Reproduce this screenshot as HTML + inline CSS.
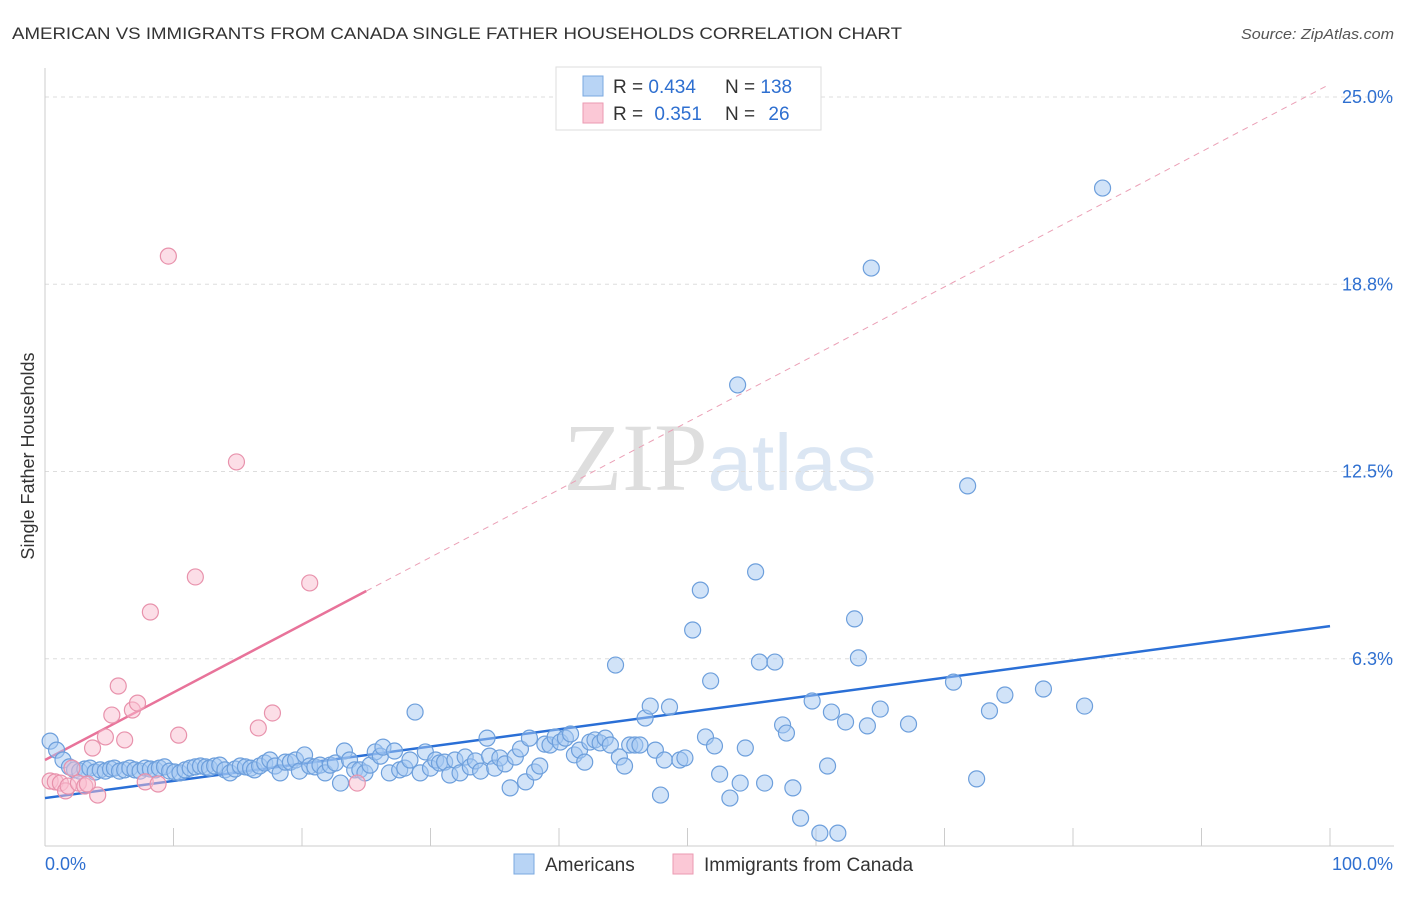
<!DOCTYPE html>
<html><head><meta charset="utf-8">
<style>
body{margin:0;background:#fff;font-family:"Liberation Sans",sans-serif;}
svg text{font-family:"Liberation Sans",sans-serif;}
</style></head>
<body>
<svg id="chart" width="1406" height="892" viewBox="0 0 1406 892" xmlns="http://www.w3.org/2000/svg">
<text x="12" y="39" font-size="17" fill="#333" textLength="890" lengthAdjust="spacingAndGlyphs">AMERICAN VS IMMIGRANTS FROM CANADA SINGLE FATHER HOUSEHOLDS CORRELATION CHART</text>
<text x="1241" y="39" font-size="15" fill="#555" font-style="italic" textLength="153" lengthAdjust="spacingAndGlyphs">Source: ZipAtlas.com</text>
<text x="720" y="490" font-size="96" text-anchor="middle" fill="#e6e6e6"><tspan font-family="Liberation Serif" fill="#dedede">ZIP</tspan><tspan fill="#dbe6f3" font-size="80">atlas</tspan></text>
<g id="grid"></g>
<g id="axes"></g>
<text transform="translate(34,456) rotate(-90)" font-size="18" fill="#333" text-anchor="middle">Single Father Households</text>
<g id="trends"></g>
<g id="points"></g>
<g>
<rect x="556" y="67" width="265" height="63" fill="#fff" stroke="#ddd"/>
<rect x="583" y="76" width="20" height="20" fill="#b8d4f5" stroke="#7aa8e0"/>
<rect x="583" y="103" width="20" height="20" fill="#fbc8d6" stroke="#eb9ab2"/>
<text x="613" y="93" font-size="19" fill="#333">R = <tspan fill="#2e6fd0">0.434</tspan></text>
<text x="725" y="93" font-size="19" fill="#333">N = <tspan fill="#2e6fd0">138</tspan></text>
<text x="613" y="120" font-size="19" fill="#333">R = <tspan fill="#2e6fd0" dx="6">0.351</tspan></text>
<text x="725" y="120" font-size="19" fill="#333">N = <tspan fill="#2e6fd0" dx="8">26</tspan></text>
</g>
<g>
<rect x="514" y="854" width="20" height="20" fill="#b8d4f5" stroke="#7aa8e0"/>
<text x="545" y="871" font-size="19" fill="#333">Americans</text>
<rect x="673" y="854" width="20" height="20" fill="#fbc8d6" stroke="#eb9ab2"/>
<text x="704" y="871" font-size="19" fill="#333">Immigrants from Canada</text>
</g>
</svg>
<script>
const blueX=[0.4,0.9,1.4,1.9,2.3,2.7,3.1,3.5,3.9,4.3,4.7,5.1,5.4,5.8,6.2,6.6,7.0,7.4,7.8,8.2,8.6,8.9,9.3,9.7,10.1,10.5,10.9,11.3,11.7,12.1,12.5,12.8,13.2,13.6,14.0,14.4,14.8,15.2,15.6,16.0,16.3,16.7,17.1,17.5,17.9,18.3,18.7,19.1,19.5,19.8,20.2,20.6,21.0,21.4,21.8,22.2,22.6,23.0,23.3,23.7,24.1,24.5,24.9,25.3,25.7,26.1,26.3,26.8,27.2,27.6,28.0,28.4,28.8,29.2,29.6,30.0,30.4,30.7,31.1,31.5,31.9,32.3,32.7,33.1,33.5,33.9,34.4,34.6,35.0,35.4,35.8,36.2,36.6,37.0,37.4,37.7,38.1,38.5,38.9,39.3,39.7,40.1,40.5,40.9,41.2,41.6,42.0,42.4,42.8,43.2,43.6,44.0,44.4,44.7,45.1,45.5,45.9,46.3,46.7,47.1,47.5,47.9,48.2,48.6,49.4,49.8,50.4,51.0,51.4,51.8,52.1,52.5,53.3,53.9,54.1,54.5,55.3,55.6,56.0,56.8,57.4,57.7,58.2,58.8,59.7,60.3,60.9,61.2,61.7,62.3,63.0,63.3,64.0,64.3,65.0,67.2,70.7,71.8,72.5,73.5,74.7,77.7,80.9,82.3];
const blueY=[3.5,3.2,2.87,2.64,2.54,2.5,2.57,2.6,2.47,2.54,2.5,2.57,2.6,2.5,2.54,2.6,2.54,2.5,2.6,2.57,2.54,2.6,2.64,2.5,2.47,2.44,2.54,2.6,2.64,2.67,2.64,2.6,2.67,2.7,2.54,2.44,2.57,2.67,2.64,2.6,2.54,2.67,2.77,2.87,2.67,2.44,2.8,2.8,2.87,2.5,3.04,2.67,2.64,2.7,2.44,2.7,2.77,2.1,3.17,2.87,2.54,2.54,2.44,2.7,3.14,3.0,3.3,2.44,3.17,2.54,2.6,2.87,4.47,2.44,3.14,2.6,2.87,2.77,2.8,2.37,2.87,2.44,2.97,2.64,2.84,2.5,3.6,3.0,2.6,2.94,2.74,1.94,2.97,3.24,2.14,3.6,2.47,2.67,3.4,3.37,3.64,3.47,3.6,3.74,3.04,3.2,2.8,3.47,3.54,3.44,3.6,3.37,6.04,2.97,2.67,3.37,3.37,3.37,4.27,4.67,3.2,1.7,2.87,4.64,2.87,2.94,7.21,8.54,3.64,5.51,3.34,2.4,1.6,15.39,2.1,3.27,9.15,6.14,2.1,6.14,4.04,3.77,1.94,0.93,4.84,0.43,2.67,4.47,0.43,4.14,7.58,6.28,4.01,19.29,4.57,4.07,5.47,12.02,2.24,4.51,5.04,5.24,4.67,21.96];
const pinkX=[0.4,0.8,1.2,1.6,1.8,2.1,2.6,3.1,3.3,3.7,4.1,4.7,5.2,5.7,6.2,6.8,7.2,7.8,8.2,8.8,9.6,10.4,11.7,14.9,16.6,17.7,20.6,24.3];
const pinkY=[2.17,2.14,2.1,1.84,2.0,2.6,2.1,2.0,2.07,3.27,1.7,3.64,4.37,5.34,3.54,4.54,4.77,2.14,7.81,2.07,19.69,3.7,8.98,12.82,3.94,4.44,8.78,2.1];
const yTicks=[6.25,12.5,18.75,25];
const yTickLabels=["6.3%","12.5%","18.8%","25.0%"];
const xTicks=[0,10,20,30,40,50,60,70,80,90,100];
const blueTrend=[1.6,7.34];
const pinkTrend=[2.87,8.51];
const NS="http://www.w3.org/2000/svg";
const X0=45,X1=1330,Y0=846,Y1=97;
const sx=v=>X0+(X1-X0)*v/100;
const sy=v=>Y0-(Y0-Y1)*v/25;
function mk(tag,attrs,parent){const e=document.createElementNS(NS,tag);for(const k in attrs)e.setAttribute(k,attrs[k]);parent.appendChild(e);return e;}
const grid=document.getElementById('grid'),axes=document.getElementById('axes');
yTicks.forEach((t,i)=>{
  const l=mk('line',{x1:X0,x2:1394,y1:sy(t),y2:sy(t),stroke:'#ddd','stroke-dasharray':'4,4'},grid);
  
  
  const tx=mk('text',{x:1393,y:sy(t)+6,'font-size':18,fill:'#2e6fd0','text-anchor':'end'},axes);
  tx.textContent=yTickLabels[i];
  
  
});
const yl=mk('line',{x1:X0,x2:X0,y1:68,y2:846,stroke:'#ccc'},axes);


const xl=mk('line',{x1:X0,x2:1394,y1:846,y2:846,stroke:'#ccc'},axes);


xTicks.forEach(t=>{
  const l=mk('line',{x1:sx(t),x2:sx(t),y1:828,y2:846,stroke:'#ccc'},axes);
  
  
});
const xa=mk('text',{x:45,y:870,'font-size':18,fill:'#2e6fd0'},axes);xa.textContent='0.0%';


const xb=mk('text',{x:1393,y:870,'font-size':18,fill:'#2e6fd0','text-anchor':'end'},axes);xb.textContent='100.0%';


const pts=document.getElementById('points');
blueX.forEach((x,i)=>{
  const c=mk('circle',{cx:sx(x),cy:sy(blueY[i]),r:8,fill:'rgba(164,199,242,0.5)',stroke:'#6d9fdc','stroke-width':1.2},pts);
  
  
});
pinkX.forEach((x,i)=>{
  const c=mk('circle',{cx:sx(x),cy:sy(pinkY[i]),r:8,fill:'rgba(250,190,208,0.5)',stroke:'#e892ac','stroke-width':1.2},pts);
  
  
});
const tr=document.getElementById('trends');
const pSlope=(pinkTrend[1]-pinkTrend[0])/25;
const pd=mk('line',{x1:sx(25),y1:sy(pinkTrend[1]),x2:sx(100),y2:sy(pinkTrend[0]+pSlope*100),stroke:'#eba0b6','stroke-dasharray':'6,5','stroke-width':1},tr);


const ps=mk('line',{x1:sx(0),y1:sy(pinkTrend[0]),x2:sx(25),y2:sy(pinkTrend[1]),stroke:'#e8739a','stroke-width':2.5},tr);


const bl=mk('line',{x1:sx(0),y1:sy(blueTrend[0]),x2:sx(100),y2:sy(blueTrend[1]),stroke:'#2a6fd6','stroke-width':2.5},tr);


</script>
</body></html>
